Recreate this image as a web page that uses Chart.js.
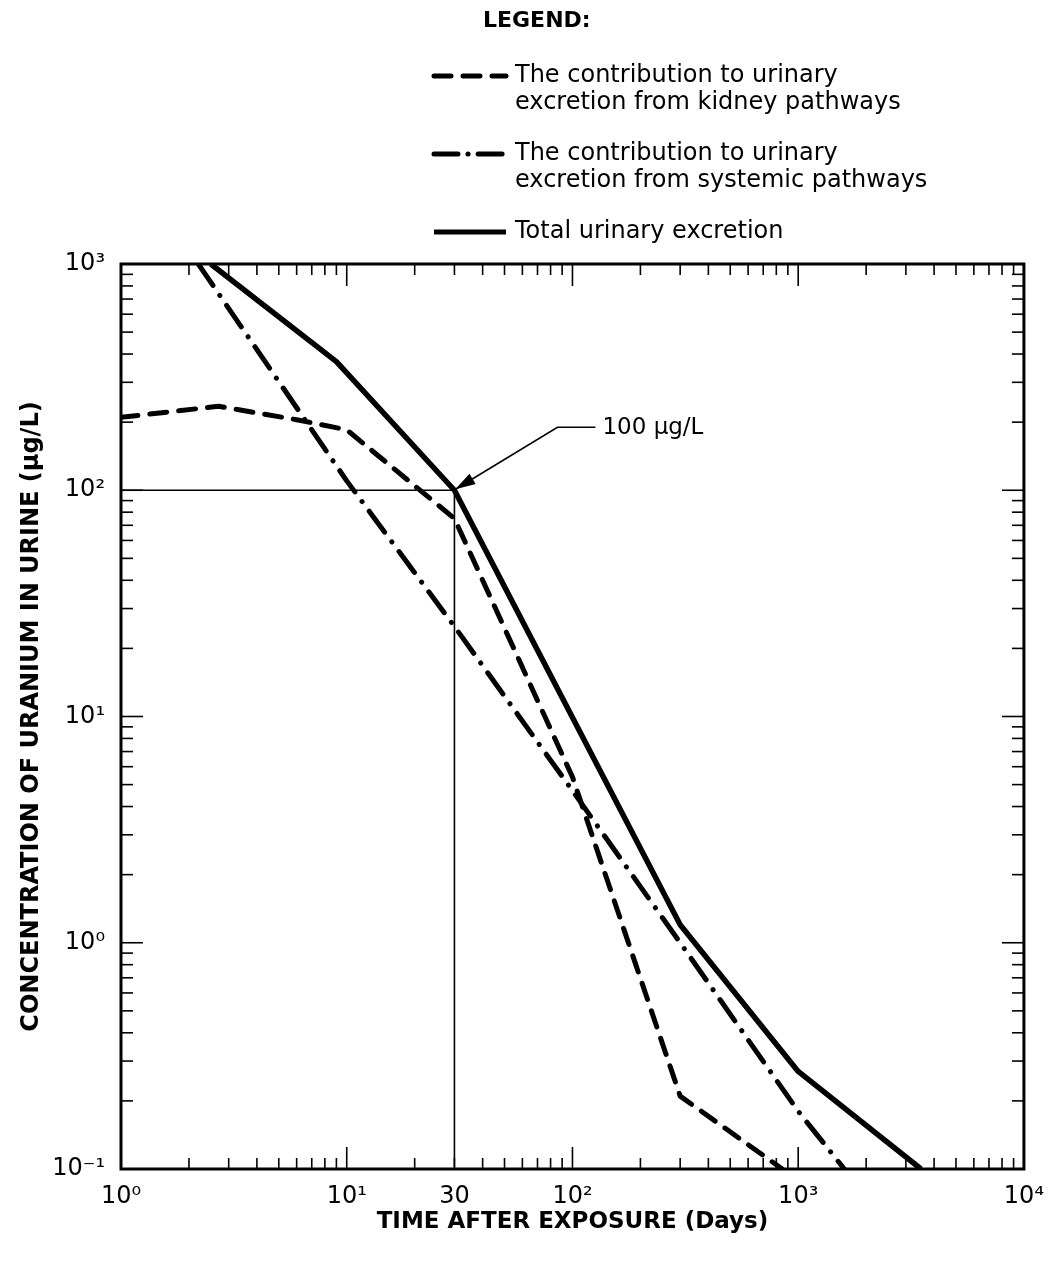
<!DOCTYPE html>
<html>
<head>
<meta charset="utf-8">
<script src="https://cdn.jsdelivr.net/npm/chart.js@4.4.0/dist/chart.umd.min.js"></script>
<style>
  body { margin: 0; background: #fff; }
  #wrap { width: 1049px; height: 1270px; position: relative; }
</style>
</head>
<body>
<div id="wrap"><canvas id="uraniumChart"></canvas></div>
<script>
// kidney pathways (dashed)
const kidneyDays = [1, 2.7, 6, 10, 30, 100, 300, 850];
const kidneyConc = [210, 235, 205, 185, 75, 5.4, 0.21, 0.1];

// systemic pathways (dash-dot)
const systemicDays = [2.2, 10, 30, 100, 300, 1000, 1600];
const systemicConc = [1000, 110, 25, 4.7, 1.0, 0.18, 0.1];

// total urinary excretion (solid)
const totalDays = [2.5, 9, 30, 300, 1000, 3500];
const totalConc = [1000, 370, 100, 1.2, 0.27, 0.1];

// 100 ug/L guide at day 30
const guideDays = [1, 30, 30];
const guideConc = [100, 100, 0.1];

const xTickValues = [1, 10, 30, 100, 1000, 10000];
const xTickLabels = ['10⁰', '10¹', '30', '10²', '10³', '10⁴'];
const yTickValues = [0.1, 1, 10, 100, 1000];
const yTickLabels = ['10⁻¹', '10⁰', '10¹', '10²', '10³'];

const legendLabels = [
    ['The contribution to urinary', 'excretion from kidney pathways'],
    ['The contribution to urinary', 'excretion from systemic pathways'],
    ['Total urinary excretion'],
];

const toPoints = (xs, ys) => xs.map((v, i) => ({ x: v, y: ys[i] }));

const dashKidney = [17, 12];
const dashSystemic = [26, 12, 0.1, 12];

const FONT = '"DejaVu Sans", "Liberation Sans", Arial, sans-serif';

function seg(ctx, x1, y1, x2, y2) {
    ctx.beginPath();
    ctx.moveTo(x1, y1);
    ctx.lineTo(x2, y2);
    ctx.stroke();
}

// frame, inward ticks, arrow note and legend
const decorations = {
    id: 'decorations',
    afterDatasetsDraw(chart) {
        const { ctx, chartArea: a, scales: { x, y } } = chart;
        ctx.save();
        ctx.strokeStyle = '#000';
        ctx.fillStyle = '#000';
        ctx.lineCap = 'butt';
        ctx.setLineDash([]);

        ctx.lineWidth = 1.6;
        for (let d = 0; d < 4; d++) {
            for (let m = 1; m <= 9; m++) {
                const px = x.getPixelForValue(m * Math.pow(10, d));
                const len = m === 1 ? 22 : 11;
                seg(ctx, px, a.bottom, px, a.bottom - len);
                seg(ctx, px, a.top, px, a.top + len);
            }
        }
        for (let d = -1; d < 3; d++) {
            for (let m = 1; m <= 9; m++) {
                const py = y.getPixelForValue(m * Math.pow(10, d));
                const len = m === 1 ? 22 : 12;
                seg(ctx, a.left, py, a.left + len, py);
                seg(ctx, a.right, py, a.right - len, py);
            }
        }

        ctx.lineWidth = 3;
        ctx.strokeRect(a.left, a.top, a.right - a.left, a.bottom - a.top);

        // arrow to the 100 ug/L point
        const tx = x.getPixelForValue(30) + 1;
        const ty = y.getPixelForValue(100) - 1;
        const ex = tx + 102, ey = ty - 62;
        ctx.lineWidth = 1.6;
        ctx.beginPath();
        ctx.moveTo(ex + 38, ey);
        ctx.lineTo(ex, ey);
        ctx.lineTo(tx, ty);
        ctx.stroke();
        const ang = Math.atan2(ey - ty, ex - tx);
        ctx.beginPath();
        ctx.moveTo(tx, ty);
        ctx.lineTo(tx + 20 * Math.cos(ang) - 6 * Math.sin(ang), ty + 20 * Math.sin(ang) + 6 * Math.cos(ang));
        ctx.lineTo(tx + 20 * Math.cos(ang) + 6 * Math.sin(ang), ty + 20 * Math.sin(ang) - 6 * Math.cos(ang));
        ctx.closePath();
        ctx.fill();
        ctx.font = '23px ' + FONT;
        ctx.textAlign = 'left';
        ctx.textBaseline = 'middle';
        ctx.fillText('100 µg/L', ex + 45, ey + 1);

        // legend
        ctx.font = 'bold 22px ' + FONT;
        ctx.fillText('LEGEND:', 483, 21);
        const rows = [76, 154, 232];
        const dashes = [dashKidney, [24, 10, 0.1, 10], []];
        ctx.font = '24px ' + FONT;
        rows.forEach((ry, i) => {
            ctx.lineWidth = 5;
            ctx.lineCap = dashes[i].length ? 'round' : 'butt';
            ctx.setLineDash(dashes[i]);
            seg(ctx, 434, ry, 506, ry);
            ctx.setLineDash([]);
            legendLabels[i].forEach((t, j) => ctx.fillText(t, 515, ry + j * 27));
        });
        ctx.restore();
    }
};

const ctx = document.getElementById('uraniumChart').getContext('2d');
new Chart(ctx, {
    type: 'line',
    data: {
        datasets: [
            {
                label: 'guide',
                data: toPoints(guideDays, guideConc),
                borderColor: '#000',
                borderWidth: 1.6,
                pointRadius: 0,
            },
            {
                label: 'kidney',
                data: toPoints(kidneyDays, kidneyConc),
                borderColor: '#000',
                borderWidth: 5,
                borderDash: dashKidney,
                borderCapStyle: 'round',
                borderJoinStyle: 'round',
                pointRadius: 0,
            },
            {
                label: 'systemic',
                data: toPoints(systemicDays, systemicConc),
                borderColor: '#000',
                borderWidth: 5,
                borderDash: dashSystemic,
                borderCapStyle: 'round',
                borderJoinStyle: 'round',
                pointRadius: 0,
            },
            {
                label: 'total',
                data: toPoints(totalDays, totalConc),
                borderColor: '#000',
                borderWidth: 5.5,
                borderJoinStyle: 'round',
                pointRadius: 0,
            },
        ],
    },
    options: {
        responsive: true,
        maintainAspectRatio: false,
        animation: false,
        layout: { padding: { top: 264, right: 19, left: 0, bottom: 0 } },
        plugins: {
            legend: { display: false },
            tooltip: { enabled: false },
        },
        scales: {
            x: {
                type: 'logarithmic',
                min: 1,
                max: 10000,
                grid: { display: false },
                border: { display: false },
                afterBuildTicks: (s) => { s.ticks = xTickValues.map(v => ({ value: v })); },
                afterFit: (s) => { s.height = 101; },
                ticks: {
                    autoSkip: false,
                    maxRotation: 0,
                    padding: 5,
                    color: '#000',
                    font: { family: FONT, size: 24 },
                    callback: (v) => xTickLabels[xTickValues.indexOf(v)],
                },
                title: {
                    display: true,
                    text: 'TIME AFTER EXPOSURE (Days)',
                    color: '#000',
                    font: { family: FONT, size: 23, weight: 'bold' },
                    padding: { bottom: 34 },
                },
            },
            y: {
                type: 'logarithmic',
                min: 0.1,
                max: 1000,
                grid: { display: false },
                border: { display: false },
                afterBuildTicks: (s) => { s.ticks = yTickValues.map(v => ({ value: v })); },
                afterFit: (s) => { s.width = 121; },
                ticks: {
                    autoSkip: false,
                    padding: 8,
                    color: '#000',
                    font: { family: FONT, size: 24 },
                    callback: (v) => yTickLabels[yTickValues.indexOf(v)],
                },
                title: {
                    display: true,
                    text: 'CONCENTRATION OF URANIUM IN URINE (µg/L)',
                    color: '#000',
                    font: { family: FONT, size: 24, weight: 'bold' },
                    padding: { top: 17 },
                },
            },
        },
    },
    plugins: [decorations],
});
</script>
</body>
</html>
